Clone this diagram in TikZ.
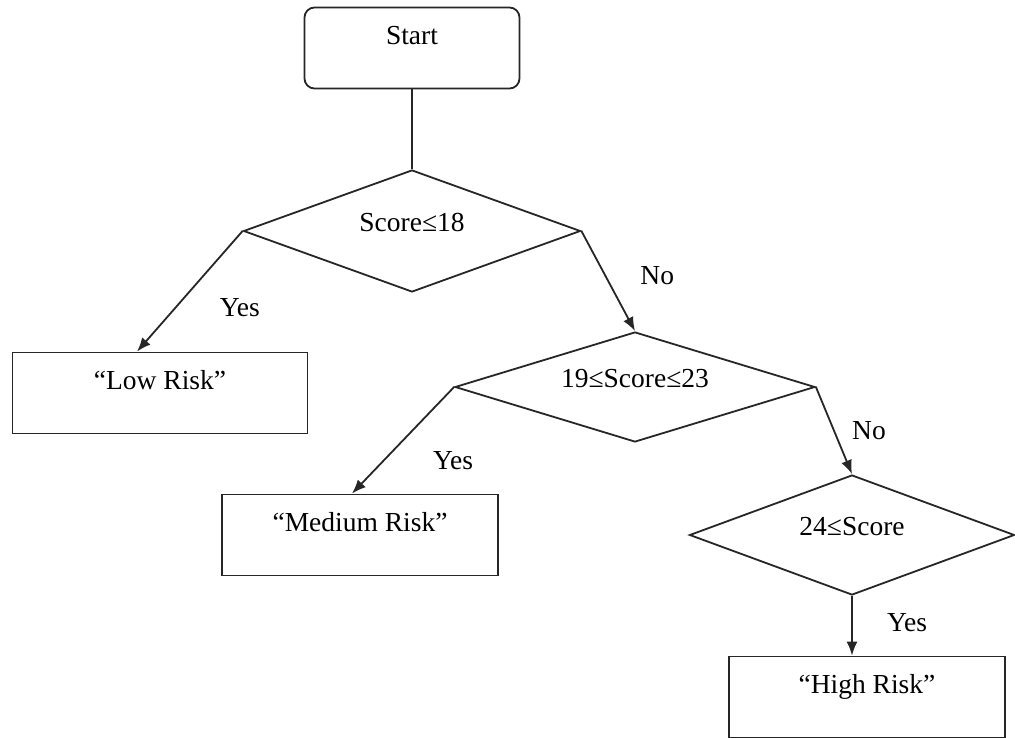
\documentclass[tikz,border=0pt]{standalone}
\usepackage{fontspec}
\setmainfont{Liberation Serif}
\usetikzlibrary{shapes.geometric}
\usetikzlibrary{arrows.meta}

\begin{document}
\begin{tikzpicture}[
    x=1pt, y=-1pt,
    every node/.style={font=\fontsize{27.5}{32}\selectfont},
    flow/.style={line width=1.8pt, draw=black!85},
    outbox/.style={flow, rectangle, inner sep=0pt, text height=37pt, text depth=44pt, align=center},
    startbox/.style={outbox, rounded corners=10pt},
    test/.style={flow, diamond, inner sep=0pt, shape aspect=2.8, text depth=18pt},
    lbl/.style={inner sep=0pt},
    tip/.style={-{Latex[length=14pt,width=11pt]}}
    ]
    \useasboundingbox (0,0) rectangle (1015,738);

    \node[startbox, minimum width=215pt] (start) at (412,48) {Start};
    \node[test, minimum width=337pt, minimum height=122pt] (t1) at (412,231) {Score≤18};
    \node[outbox, minimum width=295pt] (low) at (160,393) {“Low Risk”};
    \node[test, minimum width=360pt, minimum height=110pt] (t2) at (635,387) {19≤Score≤23};
    \node[outbox, minimum width=276pt] (medium) at (360,535) {“Medium Risk”};
    \node[test, minimum width=325pt, minimum height=120pt] (t3) at (852,535) {24≤Score};
    \node[outbox, minimum width=276pt] (high) at (867,697) {“High Risk”};

    \draw[flow] (start) -- (t1);
    \path (t1.west) edge[flow, tip] node[lbl, pos=0.5, xshift=50pt, yshift=-16pt] {Yes} ([xshift=-23pt]low.north)
    (t1.east) edge[flow, tip] node[lbl, pos=0.5, xshift=49pt, yshift=5pt] {No} (t2.north)
    (t2.west) edge[flow, tip] node[lbl, pos=0.5, xshift=50pt, yshift=-20pt] {Yes} ([xshift=-8pt]medium.north)
    (t2.east) edge[flow, tip] node[lbl, pos=0.5, xshift=35pt] {No} (t3.north)
    (t3.south) edge[flow, tip] node[lbl, pos=0.5, xshift=55pt, yshift=3pt] {Yes} (t3.south |- high.north)
    ;

\end{tikzpicture}
\end{document}
